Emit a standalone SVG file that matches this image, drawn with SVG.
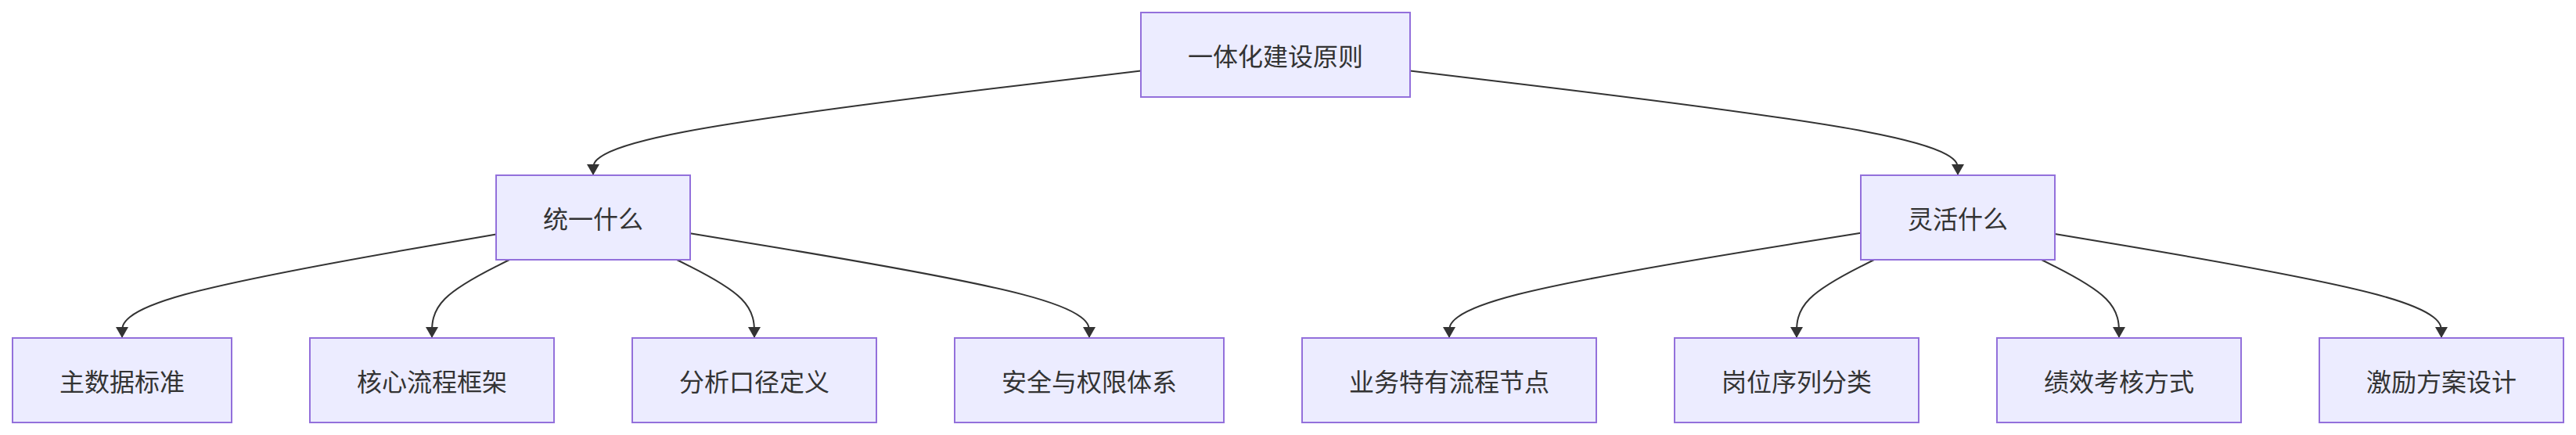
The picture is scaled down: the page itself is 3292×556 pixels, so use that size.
<svg xmlns="http://www.w3.org/2000/svg" width="3292" height="556" viewBox="0 0 3292 556">
  <style>
    .node rect { fill: #ECECFF; stroke: #9370DB; stroke-width: 2; }
    .node text { font-family: "Noto Sans CJK SC", "Noto Sans", "Liberation Sans", sans-serif; font-size: 32px; fill: #333333; text-anchor: middle; dominant-baseline: central; }
    .edge { fill: none; stroke: #333333; stroke-width: 2; marker-end: url(#arrow); }
  </style>
  <defs>
    <marker id="arrow" viewBox="0 0 14 16" refX="14" refY="8" markerUnits="userSpaceOnUse" markerWidth="14" markerHeight="16" orient="auto">
      <path d="M0,0 L14,8 L0,16 z" fill="#333333"/>
    </marker>
  </defs>
  <rect x="0" y="0" width="3292" height="556" fill="#FFFFFF"/>
  <g id="connectors">
    <path class="edge" d="M1458,90.5 L1341.33,104.42 C1224.67,118.33 991.33,146.17 874.67,168.42 C758,190.67 758,207.33 758,215.67 L758,224"/>
    <path class="edge" d="M1802,90.5 L1918.67,104.42 C2035.33,118.33 2268.67,146.17 2385.33,168.42 C2502,190.67 2502,207.33 2502,215.67 L2502,224"/>
    <path class="edge" d="M634,299.4 L554.33,313.17 C474.67,326.93 315.33,354.47 235.67,376.57 C156,398.67 156,415.33 156,423.67 L156,432"/>
    <path class="edge" d="M651,332 L634.5,340.33 C618,348.67 585,365.33 568.5,382 C552,398.67 552,415.33 552,423.67 L552,432"/>
    <path class="edge" d="M865,332 L881.5,340.33 C898,348.67 931,365.33 947.5,382 C964,398.67 964,415.33 964,423.67 L964,432"/>
    <path class="edge" d="M882,298.3 L967,312.25 C1052,326.2 1222,354.1 1307,376.38 C1392,398.67 1392,415.33 1392,423.67 L1392,432"/>
    <path class="edge" d="M2378,297.8 L2290.33,311.83 C2202.67,325.87 2027.33,353.93 1939.67,376.3 C1852,398.67 1852,415.33 1852,423.67 L1852,432"/>
    <path class="edge" d="M2395,332 L2378.5,340.33 C2362,348.67 2329,365.33 2312.5,382 C2296,398.67 2296,415.33 2296,423.67 L2296,432"/>
    <path class="edge" d="M2609,332 L2625.5,340.33 C2642,348.67 2675,365.33 2691.5,382 C2708,398.67 2708,415.33 2708,423.67 L2708,432"/>
    <path class="edge" d="M2626,298.9 L2708.33,312.75 C2790.67,326.6 2955.33,354.3 3037.67,376.48 C3120,398.67 3120,415.33 3120,423.67 L3120,432"/>
  </g>
  <g id="root" class="node">
    <rect x="1458" y="16" width="344" height="108"/>
    <text x="1630" y="70">一体化建设原则</text>
  </g>
  <g id="unify" class="node">
    <rect x="634" y="224" width="248" height="108"/>
    <text x="758" y="278">统一什么</text>
  </g>
  <g id="flexible" class="node">
    <rect x="2378" y="224" width="248" height="108"/>
    <text x="2502" y="278">灵活什么</text>
  </g>
  <g id="masterdata" class="node">
    <rect x="16" y="432" width="280" height="108"/>
    <text x="156" y="486">主数据标准</text>
  </g>
  <g id="coreprocess" class="node">
    <rect x="396" y="432" width="312" height="108"/>
    <text x="552" y="486">核心流程框架</text>
  </g>
  <g id="analysis" class="node">
    <rect x="808" y="432" width="312" height="108"/>
    <text x="964" y="486">分析口径定义</text>
  </g>
  <g id="security" class="node">
    <rect x="1220" y="432" width="344" height="108"/>
    <text x="1392" y="486">安全与权限体系</text>
  </g>
  <g id="specialprocess" class="node">
    <rect x="1664" y="432" width="376" height="108"/>
    <text x="1852" y="486">业务特有流程节点</text>
  </g>
  <g id="positions" class="node">
    <rect x="2140" y="432" width="312" height="108"/>
    <text x="2296" y="486">岗位序列分类</text>
  </g>
  <g id="performance" class="node">
    <rect x="2552" y="432" width="312" height="108"/>
    <text x="2708" y="486">绩效考核方式</text>
  </g>
  <g id="incentive" class="node">
    <rect x="2964" y="432" width="312" height="108"/>
    <text x="3120" y="486">激励方案设计</text>
  </g>
</svg>
